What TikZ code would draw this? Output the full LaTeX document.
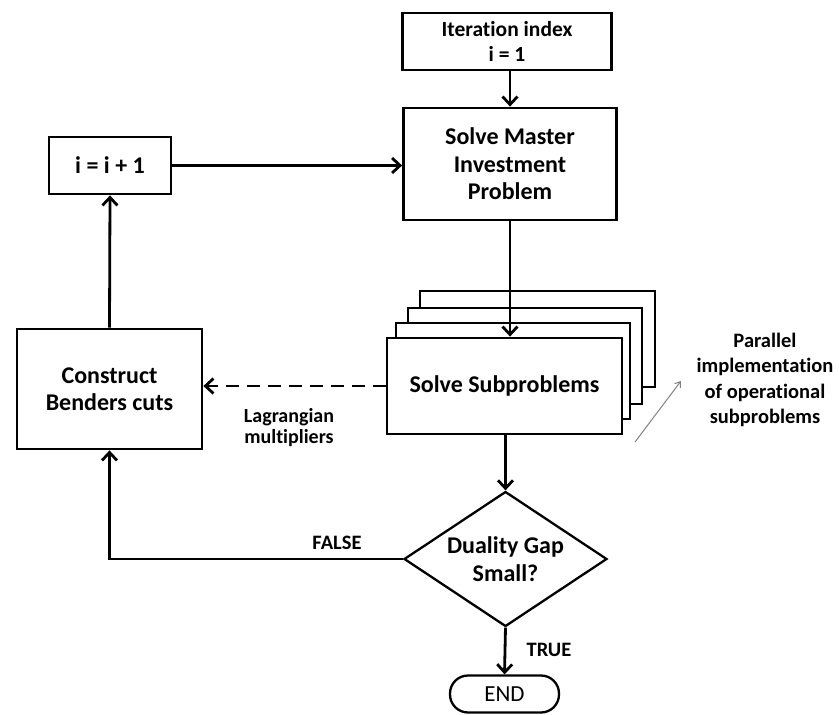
\documentclass[tikz,border=0pt]{standalone}
\usepackage{fontspec}
\setmainfont[Ligatures={NoCommon},RawFeature={-liga;-clig;-dlig}]{Carlito}
\newcommand\nolig{\kern0pt{}}
\usetikzlibrary{arrows.meta,shapes.geometric}
\begin{document}
\begin{tikzpicture}[x=1pt,y=-1pt,
  every node/.style={font=\fontsize{24}{27.5}\selectfont\bfseries, align=center, inner sep=0pt},
  box/.style={draw, line width=2.8pt, fill=white},
  flow/.style={line width=2.8pt, -{Straight Barb[length=8pt,width=15pt,line width=2.8pt]}},
  lbl/.style={font=\fontsize{20.5}{24}\selectfont\bfseries}
]
\useasboundingbox (0,0) rectangle (839,715);
% nodes
\node[box, minimum width=209pt, minimum height=57pt, font=\fontsize{21.5}{25}\selectfont\bfseries] (iter) at (507,41.5) {Iterat\nolig ion index\\i = 1};
\node[box, minimum width=213pt, minimum height=112pt] (master) at (510,164) {Solve Master\\Investment\\Problem};
\node[box, minimum width=122pt, minimum height=57pt] (inc) at (110,165.5) {i = i + 1};
\node[box, minimum width=185pt, minimum height=120pt] (cons) at (109.5,389) {Construct\\Benders cuts};
% stacked subproblem boxes
\node[box, minimum width=235pt, minimum height=96pt] (s3) at (537.5,339) {};
\node[box, minimum width=234pt, minimum height=96pt] (s2) at (525,356) {};
\node[box, minimum width=234pt, minimum height=96pt] (s1) at (513,371) {};
\node[box, minimum width=235pt, minimum height=96pt] (front) at (504.5,386) {Solve Subproblems};
\node[draw, diamond, line width=2.3pt, minimum width=203pt, minimum height=135pt, aspect=1.5] (dia) at (505.5,559) {Duality Gap\\Small?};
\node[draw, line width=2.3pt, rounded corners=18pt, minimum width=109pt, minimum height=37pt, font=\fontsize{23}{24}\selectfont] (end) at (504.5,694) {END};
% labels
\node[lbl] (false) at (337,543) {FALSE};
\node[lbl] (true) at (549,650) {TRUE};
\node[lbl, font=\fontsize{20}{21}\selectfont\bfseries] (lag) at (289,428) {Lagrangian\\multipliers};
\node[lbl, font=\fontsize{20.5}{25.5}\selectfont\bfseries] (par) at (765,380) {Parallel\\implementat\nolig ion\\of operat\nolig ional\\subproblems};
\coordinate (g1) at (635,442);
\coordinate (g2) at (681,381);
% connectors
\draw[flow] (iter.south -| master.north) -- (master.north);
\draw[flow] (master.south) -- (front.north -| master.south);
\draw[flow] (inc.east) -- (inc.east -| master.west);
\draw[flow] (cons.north) -- (inc.south);
\draw[flow, dash pattern=on 13pt off 8pt] (front.west) -- (front.west -| cons.east);
\draw[flow] (front.south -| dia.north) -- (dia.north);
\draw[flow] (dia.south) -- (end.north);
\draw[flow] (dia.west) -| (cons.south);
\draw[gray, line width=1pt, -{Straight Barb[length=5pt,width=7pt]}] (g1) -- (g2);
\end{tikzpicture}
\end{document}
